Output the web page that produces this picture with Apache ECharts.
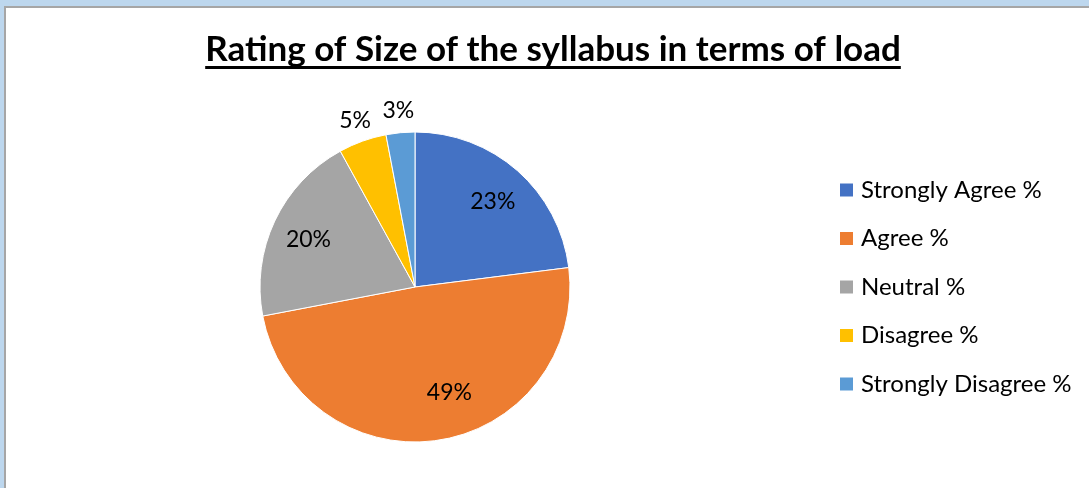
<!DOCTYPE html>
<html>
<head>
<meta charset="utf-8">
<script src="https://cdn.jsdelivr.net/npm/echarts@6/dist/echarts.min.js"></script>
<style>
  html, body { margin: 0; padding: 0; background: #bdd7ee; }
  #frame { position: absolute; left: 4px; top: 6px; width: 1085px; height: 482px;
           border-left: 2px solid #a6a6a6; border-top: 2px solid #a6a6a6; background: #fff; }
  #chart { width: 1085px; height: 482px; }
</style>
</head>
<body>
<div id="frame"><div id="chart"></div></div>
<script>
const titleText = 'Rating of Size of the syllabus in terms of load';
const categories = ['Strongly Agree %', 'Agree %', 'Neutral %', 'Disagree %', 'Strongly Disagree %'];
const values = [23, 49, 20, 5, 3];
const colors = ['#4472C4', '#ED7D31', '#A5A5A5', '#FFC000', '#5B9BD5'];

const FONT = 'Lato, "Noto Sans", sans-serif';
const center = [409, 279];
const R = 155;

const chart = echarts.init(document.getElementById('chart'), null, { renderer: 'canvas' });

const titleFont = 'bold 35px ' + FONT;
const measure = new echarts.graphic.Text({ style: { text: titleText, font: titleFont } });
const tw = measure.getBoundingRect().width;
const titleX = 547;
const titleY = 46;

const data = categories.map((c, i) => ({ name: c, value: values[i], itemStyle: { color: colors[i] } }));
const fmt = p => p.value + '%';
// Excel best-fit nudges for inside labels (style only)
const insideOffsets = [[0, 3], [16, -11], [0, 3], [0, 0], [0, 0]];

chart.setOption({
  animation: false,
  color: colors,
  graphic: [
    { type: 'text', left: titleX - tw / 2, top: titleY - 22,
      style: { text: titleText, font: titleFont, fill: '#000' } },
    { type: 'rect', shape: { x: titleX - tw / 2, y: titleY + 12, width: tw, height: 3 },
      style: { fill: '#000' } }
  ],
  legend: {
    orient: 'vertical', left: 832, top: 170, padding: 0,
    itemWidth: 15, itemHeight: 15, itemGap: 24.5, icon: 'rect',
    textStyle: { fontFamily: FONT, fontSize: 24, color: '#000', lineHeight: 23, padding: [0, 0, 0, 2] },
    data: categories
  },
  series: [
    {
      type: 'pie', center: center, radius: [0, R], startAngle: 90, clockwise: true,
      data: data, label: { show: false }, labelLine: { show: false },
      itemStyle: { borderColor: '#fff', borderWidth: 1 }, silent: true
    },
    {
      type: 'pie', center: center, radius: [R * 0.48, R], startAngle: 90, clockwise: true,
      data: data.map((d, i) => ({ name: d.name, value: d.value,
        itemStyle: { color: 'rgba(0,0,0,0)' },
        label: { show: d.value >= 10, offset: insideOffsets[i] } })),
      label: { position: 'inside', formatter: fmt, fontFamily: FONT, fontSize: 23, color: '#000' },
      labelLine: { show: false }, silent: true, legendHoverLink: false
    },
    {
      type: 'pie', center: center, radius: [R + 8, R + 30], startAngle: 90, clockwise: true,
      data: data.map(d => ({ name: d.name, value: d.value,
        itemStyle: { color: 'rgba(0,0,0,0)' },
        label: { show: d.value < 10 } })),
      label: { position: 'inside', formatter: fmt, fontFamily: FONT, fontSize: 23, color: '#000' },
      labelLine: { show: false }, silent: true, legendHoverLink: false
    }
  ]
});
</script>
</body>
</html>
